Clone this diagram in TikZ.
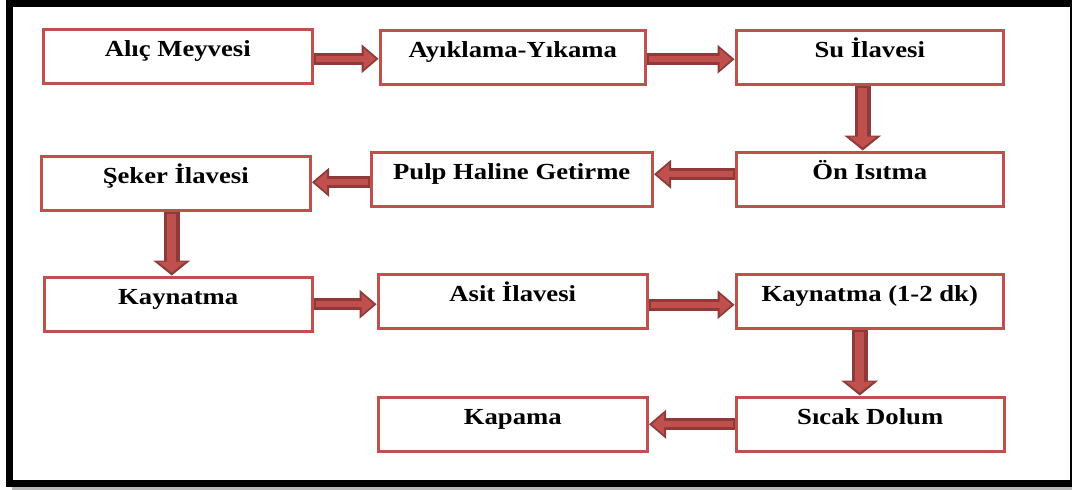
\documentclass[tikz,border=0pt]{standalone}
\usepackage{fontspec}
\setmainfont[FakeStretch=1.16]{Liberation Serif}
\usetikzlibrary{arrows.meta}
\definecolor{boxred}{HTML}{C0504D}
\definecolor{arrowdark}{HTML}{8E3A38}
\tikzset{
  box/.style={draw=boxred, line width=3.5pt, inner sep=0pt, anchor=north west,
    text height=27.5pt, text depth=26.5pt,
    font=\fontsize{23pt}{27pt}\selectfont\bfseries},
  hout/.style={draw=arrowdark, line width=12pt,
    -{Triangle[length=17pt,width=29pt,line width=0pt]}},
  hin/.style={draw=boxred, line width=6pt, shorten >=3pt,
    -{Triangle[length=12pt,width=21pt,line width=0pt]}},
  vout/.style={draw=arrowdark, line width=16pt,
    -{Triangle[length=15pt,width=37pt,line width=0pt]}},
  vin/.style={draw=boxred, line width=9pt, shorten >=3pt,
    -{Triangle[length=11pt,width=28pt,line width=0pt]}},
}
\begin{document}
\begin{tikzpicture}[x=1pt,y=-1pt]
\useasboundingbox (0,0) rectangle (1072,490);
\fill[white] (0,0) rectangle (1072,490);
% frame
\fill[gray!55] (12,486) rectangle (1072,490);
\draw[line width=7pt] (9.5,3.5) rectangle (1073,483);
% boxes
\node[box, minimum width=269pt] (b1) at (41.5,27.5) {Alıç Meyvesi};
\node[box, minimum width=265pt] (b2) at (378.5,28.5) {Ayıklama-Yıkama};
\node[box, minimum width=267pt] (b3) at (734.5,28.5) {Su İlavesi};
\node[box, minimum width=267pt] (b4) at (734.5,150.5) {Ön Isıtma};
\node[box, minimum width=281pt] (b5) at (369.5,150.5) {Pulp Haline Getirme};
\node[box, minimum width=269pt] (b6) at (39.5,154.5) {Şeker İlavesi};
\node[box, minimum width=268pt] (b7) at (42.5,275.5) {Kaynatma};
\node[box, minimum width=269pt] (b8) at (376.5,272.5) {Asit İlavesi};
\node[box, minimum width=267pt] (b9) at (734.5,272.5) {Kaynatma (1-2 dk)};
\node[box, minimum width=268pt] (b10) at (734.5,395.5) {Sıcak Dolum};
\node[box, minimum width=269pt] (b11) at (376.5,395.5) {Kapama};
% horizontal arrows
\foreach \s/\t/\dy in {b1/b2/-2.5pt, b2/b3/-2pt, b7/b8/0pt, b8/b9/-3.5pt}{
  \draw[hout] ([yshift=\dy]\s.east) -- ([yshift=\dy]\s.east -| \t.west);
  \draw[hin]  ([yshift=\dy,xshift=2pt]\s.east) -- ([yshift=\dy]\s.east -| \t.west);
}
\foreach \s/\t/\dy in {b4/b5/5pt, b5/b6/-3pt, b10/b11/0pt}{
  \draw[hout] ([yshift=\dy]\s.west) -- ([yshift=\dy]\s.west -| \t.east);
  \draw[hin]  ([yshift=\dy,xshift=-2pt]\s.west) -- ([yshift=\dy]\s.west -| \t.east);
}
% vertical arrows
\foreach \s/\t/\dx in {b3/b4/-7pt, b6/b7/-4pt, b9/b10/-10pt}{
  \draw[vout] ([xshift=\dx]\s.south) -- ([xshift=\dx]\s.south |- \t.north);
  \draw[vin]  ([xshift=\dx,yshift=-2pt]\s.south) -- ([xshift=\dx]\s.south |- \t.north);
}
\end{tikzpicture}
\end{document}
